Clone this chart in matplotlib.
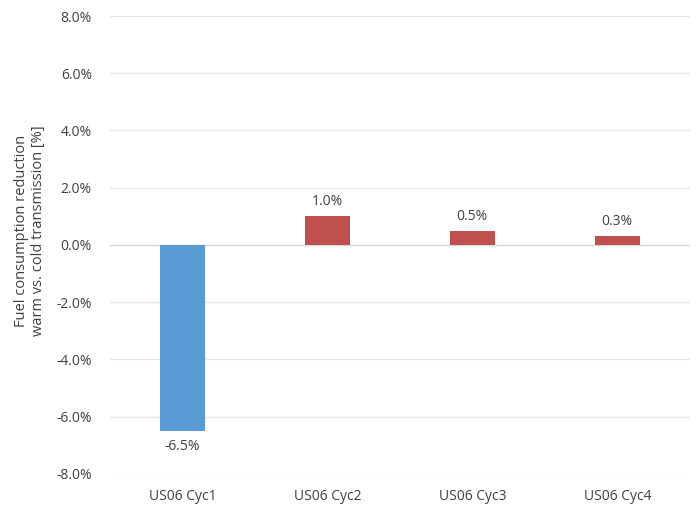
import matplotlib
matplotlib.use("Agg")
import matplotlib.pyplot as plt
from matplotlib.ticker import FuncFormatter

categories = ["US06 Cyc1", "US06 Cyc2", "US06 Cyc3", "US06 Cyc4"]
values = [-6.5, 1.0, 0.5, 0.3]
labels = ["-6.5%", "1.0%", "0.5%", "0.3%"]
colors = ["#5b9bd5", "#c0504d", "#c0504d", "#c0504d"]

plt.rcParams['font.family'] = ['Open Sans', 'DejaVu Sans']

fig = plt.figure(figsize=(6.96, 5.08), dpi=100)
ax = fig.add_axes([0.158, 0.067, 0.833, 0.9015])

x = range(len(categories))
bars = ax.bar(x, values, width=0.31, color=colors, zorder=3)
ax.set_ylim(-8, 8)
ax.set_xlim(-0.5, len(categories) - 0.5)
ax.set_yticks([-8, -6, -4, -2, 0, 2, 4, 6, 8])
ax.yaxis.set_major_formatter(FuncFormatter(lambda v, p: f"{v:.1f}%"))
ax.grid(axis='y', color='#e6e6e6', linewidth=0.9, zorder=0)
ax.axhline(0, color='#d9d9d9', linewidth=0.9, zorder=2)
for s in ax.spines.values():
    s.set_visible(False)
ax.tick_params(axis='both', length=0, labelsize=10, colors='#404040')
ax.tick_params(axis='x', pad=11)
ax.tick_params(axis='y', pad=13)
ax.set_xticks(list(x))
ax.set_xticklabels(categories)

for xi, v, lab in zip(x, values, labels):
    if v < 0:
        ax.annotate(lab, (xi, v), xytext=(0, -6), textcoords='offset points',
                    ha='center', va='top', fontsize=10, color='#404040')
    else:
        ax.annotate(lab, (xi, v), xytext=(0, 5), textcoords='offset points',
                    ha='center', va='bottom', fontsize=10, color='#404040')

fig.text(0.043, 0.545, "Fuel consumption reduction\nwarm vs. cold transmission [%]",
         rotation=90, ha='center', va='center', fontsize=10.5, color='#404040',
         linespacing=1.15)

fig.savefig("out.png", dpi=100)
